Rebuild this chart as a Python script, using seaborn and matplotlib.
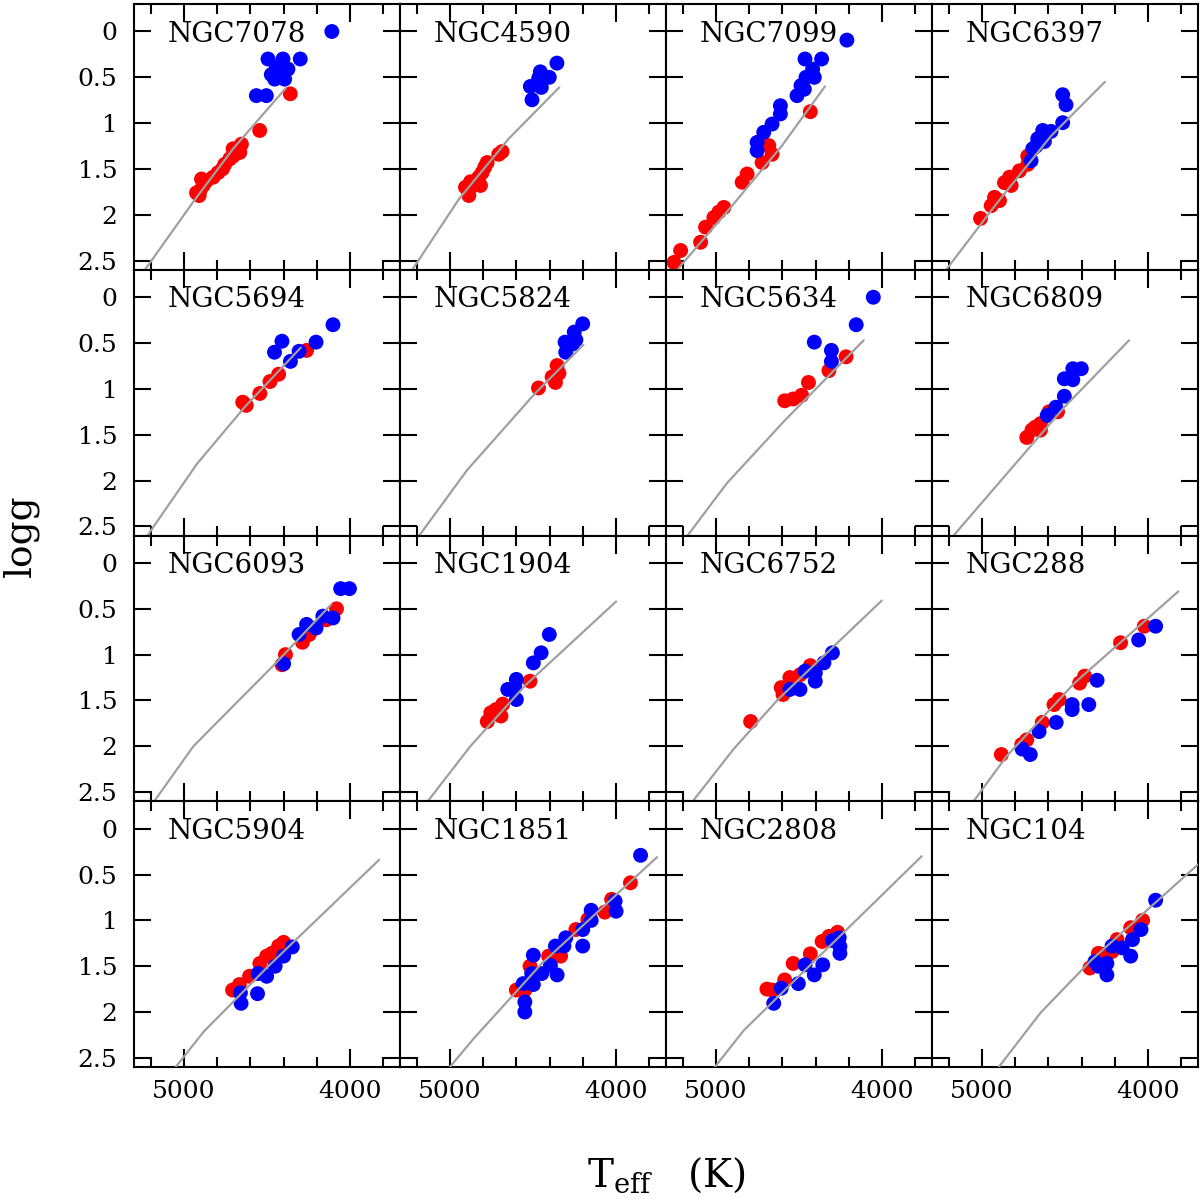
import numpy as np
import pandas as pd
import seaborn as sns
import matplotlib.pyplot as plt
from matplotlib.ticker import MultipleLocator

# cluster order, row by row
clusters = ["NGC7078", "NGC4590", "NGC7099", "NGC6397",
            "NGC5694", "NGC5824", "NGC5634", "NGC6809",
            "NGC6093", "NGC1904", "NGC6752", "NGC288",
            "NGC5904", "NGC1851", "NGC2808", "NGC104"]

# (Teff [K], logg): red stars, blue stars, model line
red_7078 = [(4360, 0.68), (4544, 1.08), (4654, 1.23), (4664, 1.32), (4704, 1.36), (4704, 1.28),
            (4724, 1.39), (4754, 1.45), (4768, 1.50), (4794, 1.54), (4824, 1.59), (4864, 1.63),
            (4894, 1.61), (4884, 1.68), (4904, 1.74), (4924, 1.76), (4908, 1.79)]
blue_7078 = [(4110, 0.0), (4494, 0.30), (4404, 0.30), (4300, 0.30), (4444, 0.39), (4374, 0.41),
             (4474, 0.47), (4404, 0.47), (4454, 0.52), (4394, 0.52), (4564, 0.70), (4504, 0.70)]
line_7078 = [(5234, 2.60), (4944, 1.86), (4704, 1.28), (4388, 0.62)]

red_4590 = [(4686, 1.31), (4706, 1.34), (4776, 1.43), (4790, 1.48), (4806, 1.54), (4816, 1.68),
            (4826, 1.59), (4876, 1.64), (4906, 1.70), (4886, 1.79), (4856, 1.68)]
blue_4590 = [(4356, 0.345), (4456, 0.44), (4402, 0.50), (4466, 0.51), (4516, 0.60), (4450, 0.61),
             (4506, 0.745)]
line_4590 = [(5226, 2.60), (4946, 1.83), (4646, 1.17), (4342, 0.61)]

red_7099 = [(5252, 2.52), (5212, 2.39), (5092, 2.30), (5062, 2.135), (5012, 2.03), (4982, 1.97),
            (4952, 1.92), (4842, 1.645), (4812, 1.555), (4722, 1.43), (4662, 1.34), (4682, 1.245),
            (4432, 0.875)]
blue_7099 = [(4752, 1.21), (4752, 1.30), (4712, 1.10), (4662, 1.01), (4612, 0.81), (4612, 0.90),
             (4512, 0.70), (4212, 0.094), (4464, 0.30), (4364, 0.30), (4418, 0.41), (4458, 0.50),
             (4408, 0.50), (4488, 0.59), (4468, 0.63)]
line_7099 = [(5232, 2.60), (4902, 1.90), (4602, 1.245), (4344, 0.60)]

red_6397 = [(4724, 1.36), (4724, 1.45), (4774, 1.52), (4834, 1.59), (4864, 1.65), (4824, 1.68),
            (4924, 1.81), (4894, 1.845), (4944, 1.90), (5008, 2.04)]
blue_6397 = [(4514, 0.69), (4494, 0.80), (4514, 0.995), (4634, 1.08), (4584, 1.09), (4664, 1.17),
             (4624, 1.20), (4694, 1.28), (4704, 1.41), (4674, 1.25)]
line_6397 = [(5215, 2.60), (4904, 1.86), (4584, 1.14), (4260, 0.55)]

red_5694 = [(4262, 0.58), (4430, 0.84), (4482, 0.92), (4543, 1.05), (4646, 1.145), (4625, 1.18)]
blue_5694 = [(4103, 0.30), (4205, 0.49), (4410, 0.48), (4455, 0.60), (4307, 0.59), (4359, 0.70)]
line_5694 = [(5219, 2.60), (4922, 1.82), (4635, 1.20), (4297, 0.55)]

red_5824 = [(4355, 0.745), (4344, 0.83), (4385, 0.87), (4365, 0.93), (4467, 0.99)]
blue_5824 = [(4201, 0.29), (4252, 0.38), (4242, 0.465), (4307, 0.49), (4262, 0.51), (4303, 0.60)]
line_5824 = [(5184, 2.60), (4898, 1.89), (4488, 1.05), (4197, 0.52)]

red_5634 = [(4217, 0.65), (4320, 0.80), (4443, 0.93), (4484, 1.07), (4535, 1.11), (4586, 1.13)]
blue_5634 = [(4053, 0.0), (4156, 0.30), (4408, 0.49), (4305, 0.58), (4305, 0.70)]
line_5634 = [(5170, 2.60), (4934, 2.03), (4586, 1.345), (4111, 0.47)]

red_6809 = [(4545, 1.25), (4596, 1.25), (4648, 1.38), (4648, 1.45), (4699, 1.45), (4730, 1.53),
            (4680, 1.42)]
blue_6809 = [(4453, 0.78), (4402, 0.78), (4504, 0.89), (4453, 0.90), (4504, 1.08), (4555, 1.20),
             (4607, 1.29)]
line_6809 = [(5170, 2.60), (4852, 1.93), (4504, 1.20), (4115, 0.47)]

red_6093 = [(4082, 0.50), (4144, 0.62), (4246, 0.78), (4287, 0.865), (4389, 1.00), (4410, 1.11)]
blue_6093 = [(4057, 0.28), (4004, 0.28), (4103, 0.60), (4164, 0.58), (4205, 0.71), (4262, 0.67),
             (4307, 0.78), (4400, 1.10)]
line_6093 = [(5178, 2.60), (4943, 2.00), (4451, 1.10), (4113, 0.45)]

red_1904 = [(4518, 1.29), (4682, 1.54), (4723, 1.60), (4754, 1.635), (4775, 1.73), (4693, 1.67)]
blue_1904 = [(4402, 0.78), (4451, 0.98), (4498, 1.09), (4600, 1.27), (4652, 1.38), (4600, 1.49),
             (4610, 1.35)]
line_1904 = [(5133, 2.60), (4877, 2.00), (4549, 1.34), (4000, 0.42)]

red_6752 = [(4432, 1.12), (4494, 1.22), (4555, 1.25), (4607, 1.36), (4596, 1.435), (4791, 1.73),
            (4540, 1.31)]
blue_6752 = [(4299, 0.98), (4350, 1.09), (4402, 1.20), (4402, 1.29), (4463, 1.18), (4494, 1.38),
             (4555, 1.38)]
line_6752 = [(5139, 2.60), (4893, 2.03), (4627, 1.49), (4002, 0.41)]

red_288 = [(4023, 0.69), (4166, 0.87), (4382, 1.235), (4412, 1.31), (4535, 1.49), (4566, 1.545),
           (4637, 1.74), (4730, 1.93), (4760, 1.98), (4883, 2.09)]
blue_288 = [(3955, 0.69), (4057, 0.84), (4307, 1.28), (4357, 1.545), (4457, 1.545), (4457, 1.60),
            (4553, 1.74), (4656, 1.84), (4758, 2.03), (4709, 2.09)]
line_288 = [(5050, 2.60), (4852, 2.11), (4443, 1.31), (3818, 0.31)]

red_5904 = [(4400, 1.24), (4430, 1.28), (4471, 1.36), (4502, 1.39), (4543, 1.47), (4605, 1.61),
            (4666, 1.70), (4707, 1.76)]
blue_5904 = [(4348, 1.29), (4400, 1.39), (4451, 1.50), (4502, 1.61), (4553, 1.58), (4660, 1.79),
             (4656, 1.905), (4557, 1.80)]
line_5904 = [(5049, 2.60), (4881, 2.215), (4492, 1.50), (3826, 0.34)]

red_1851 = [(3914, 0.59), (4027, 0.77), (4068, 0.91), (4170, 0.99), (4242, 1.10), (4334, 1.39),
            (4406, 1.39), (4518, 1.50), (4549, 1.76), (4600, 1.76)]
blue_1851 = [(3853, 0.29), (4006, 0.79), (4000, 0.90), (4150, 0.89), (4150, 1.00), (4201, 1.10),
             (4303, 1.19), (4314, 1.28), (4201, 1.28), (4365, 1.28), (4395, 1.49), (4355, 1.595),
             (4447, 1.58), (4498, 1.38), (4508, 1.58), (4559, 1.69), (4498, 1.70), (4549, 1.89),
             (4549, 2.00)]
line_1851 = [(5000, 2.60), (4857, 2.29), (4447, 1.47), (3754, 0.31)]

red_2808 = [(4268, 1.13), (4320, 1.175), (4361, 1.23), (4432, 1.365), (4535, 1.47), (4586, 1.65),
            (4693, 1.75), (4660, 1.76)]
blue_2808 = [(4299, 1.22), (4258, 1.19), (4254, 1.285), (4254, 1.36), (4357, 1.485), (4408, 1.595),
             (4463, 1.485), (4504, 1.69), (4607, 1.74), (4652, 1.905)]
line_2808 = [(5006, 2.60), (4832, 2.20), (4484, 1.58), (3762, 0.30)]

red_104 = [(4033, 1.0), (4105, 1.08), (4187, 1.21), (4217, 1.34), (4299, 1.36), (4350, 1.52),
           (4270, 1.37)]
blue_104 = [(3955, 0.78), (4043, 1.10), (4094, 1.21), (4156, 1.30), (4105, 1.39), (4217, 1.28),
            (4248, 1.47), (4299, 1.50), (4248, 1.595), (4320, 1.45)]
line_104 = [(4898, 2.60), (4648, 2.01), (4340, 1.43), (3700, 0.39)]

xticks = [5000, 4000]
xtick_labels = ["5000", "4000"]
yticks = [0, 0.5, 1, 1.5, 2, 2.5]
ytick_labels = ["0", "0.5", "1", "1.5", "2", "2.5"]

g = globals()
rows = []
lines = []
for name in clusters:
    key = name[3:]
    for pop in ["red", "blue"]:
        for t, lg in g[f"{pop}_{key}"]:
            rows.append({"cluster": name, "pop": pop, "Teff": t, "logg": lg})
    for t, lg in g[f"line_{key}"]:
        lines.append({"cluster": name, "Teff": t, "logg": lg})
stars = pd.DataFrame(rows)
models = pd.DataFrame(lines)

sns.set_style("ticks")
plt.rcParams["font.family"] = ["DejaVu Serif"]
plt.rcParams["mathtext.fontset"] = "dejavuserif"
plt.rcParams["axes.linewidth"] = 1.5
for k in ["text.color", "axes.labelcolor", "xtick.color", "ytick.color", "axes.edgecolor"]:
    plt.rcParams[k] = "black"

fig, axes = plt.subplots(4, 4, figsize=(12, 11.99), dpi=100, sharex=True, sharey=True)
fig.subplots_adjust(left=134 / 1200, right=1198 / 1200, top=1 - 4 / 1199,
                    bottom=1 - 1067 / 1199, wspace=0, hspace=0)

for ax, name in zip(axes.flat, clusters):
    sub = stars[stars["cluster"] == name]
    sns.scatterplot(data=sub, x="Teff", y="logg", hue="pop",
                    palette={"red": "#ff0000", "blue": "#0000ff"},
                    s=115, linewidth=0, legend=False, ax=ax, zorder=2)
    sns.lineplot(data=models[models["cluster"] == name], x="Teff", y="logg",
                 sort=False, estimator=None, color="#a0a0a0", lw=1.6, ax=ax, zorder=3)
    ax.text(0.128, 0.858, name, transform=ax.transAxes, fontsize=20,
            ha="left", va="baseline", color="black")
    ax.set_xlabel("")
    ax.set_ylabel("")
    for sp in ax.spines.values():
        sp.set_color("black")
        sp.set_linewidth(1.5)
    ax.tick_params(which="both", direction="in", top=True, right=True,
                   width=1.5, color="black", labelcolor="black", labelsize=18)
    ax.tick_params(axis="x", which="major", length=13, pad=9)
    ax.tick_params(axis="x", which="minor", length=7)
    ax.tick_params(axis="y", which="major", length=12.5, pad=12)

ax0 = axes[0, 0]
ax0.set_xlim(5300, 3700)
ax0.set_ylim(2.6, -0.3)
ax0.set_xticks(xticks)
ax0.set_xticklabels(xtick_labels)
ax0.xaxis.set_minor_locator(MultipleLocator(200))
ax0.set_yticks(yticks)
ax0.set_yticklabels(ytick_labels)

fig.text(21 / 1200, 1 - 535.5 / 1199, "logg", rotation=90, ha="center", va="center",
         fontsize=27, color="black")
fig.text(666 / 1200, 1 - 1187 / 1199, r"T$_{\rm eff}$   (K)", ha="center", va="baseline",
         fontsize=28, color="black")

fig.savefig("out.png", dpi=100)
